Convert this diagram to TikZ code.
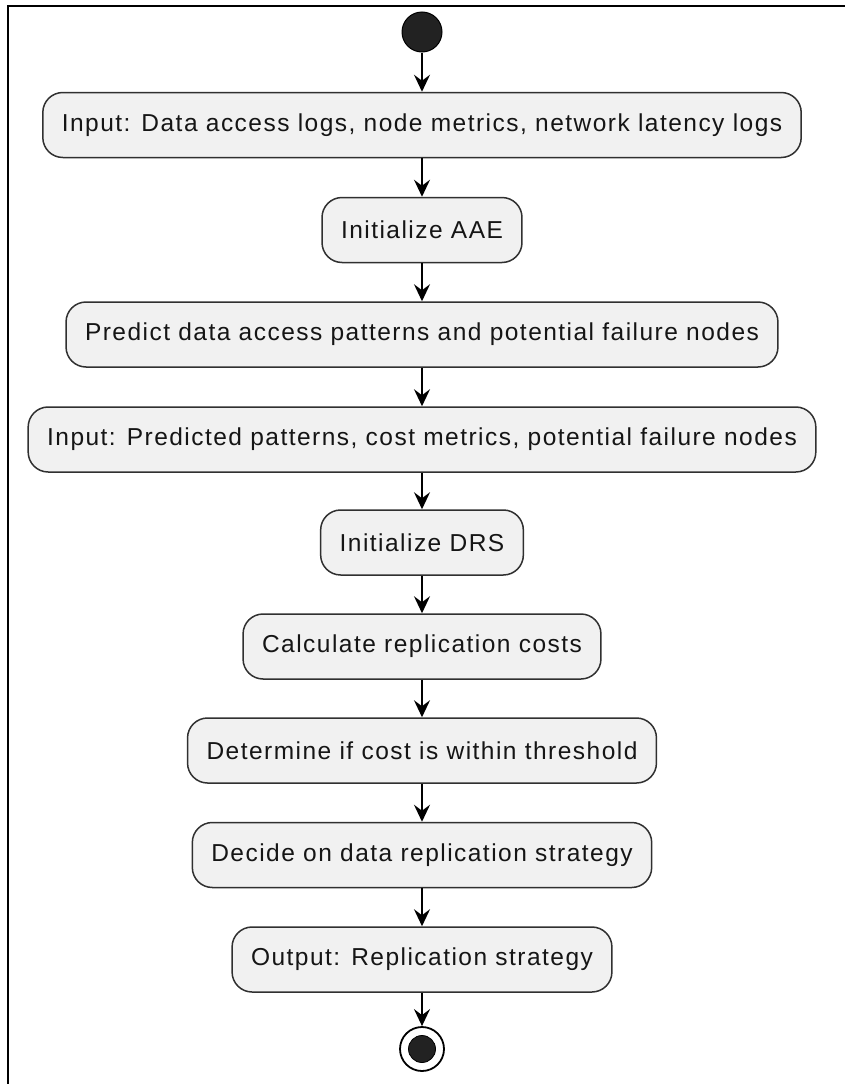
\documentclass[tikz,border=0pt]{standalone}
\usepackage{fontspec}
\setmainfont{Liberation Sans}[LetterSpace=6]
\usetikzlibrary{arrows.meta}
\definecolor{boxfill}{HTML}{F1F1F1}
\definecolor{boxline}{HTML}{303030}
\definecolor{txt}{HTML}{151515}
\definecolor{dot}{HTML}{222222}
\begin{document}
\begin{tikzpicture}[x=1pt,y=-1pt,
  act/.style={draw=boxline, line width=1.5pt, fill=boxfill, rounded corners=20pt,
    minimum height=65pt, inner xsep=19pt, inner ysep=0pt, text=txt,
    font=\fontsize{24.5}{28}\selectfont},
  flow/.style={draw=black, line width=2pt, -{Stealth[length=17pt,width=16pt,inset=6pt]}},
  startdot/.style={circle, fill=dot, draw=black, line width=1pt, minimum size=40pt, inner sep=0pt},
  endring/.style={circle, fill=white, draw=black, line width=1.8pt, minimum size=44pt, inner sep=0pt},
  enddot/.style={circle, fill=dot, draw=black, line width=0.8pt, minimum size=27pt, inner sep=0pt}
]
\useasboundingbox (0,0) rectangle (845,1084);
\draw[line width=2pt] (845,6) -- (8,6) -- (8,1084);

\node[startdot] (start) at (422,32) {};
\node[act] (b1) at (422,125) {Input: Data access logs, node metrics, network latency logs};
\node[act] (b2) at (422,230) {Initialize AAE};
\node[act] (b3) at (422,334.5) {Predict data access patterns and potential failure nodes};
\node[act] (b4) at (422,439.5) {Input: Predicted patterns, cost metrics, potential failure nodes};
\node[act] (b5) at (422,542.5) {Initialize DRS};
\node[act] (b6) at (422,646.5) {Calculate replication costs};
\node[act] (b7) at (422,750.5) {Determine if cost is within threshold};
\node[act] (b8) at (422,855) {Decide on data replication strategy};
\node[act] (b9) at (422,959.5) {Output: Replication strategy};
\node[endring] (endo) at (422,1049) {};
\node[enddot] (endi) at (endo) {};

\draw[flow] (start) -- (b1);
\draw[flow] (b1) -- (b2);
\draw[flow] (b2) -- (b3);
\draw[flow] (b3) -- (b4);
\draw[flow] (b4) -- (b5);
\draw[flow] (b5) -- (b6);
\draw[flow] (b6) -- (b7);
\draw[flow] (b7) -- (b8);
\draw[flow] (b8) -- (b9);
\draw[flow] (b9) -- (endo);
\end{tikzpicture}
\end{document}
